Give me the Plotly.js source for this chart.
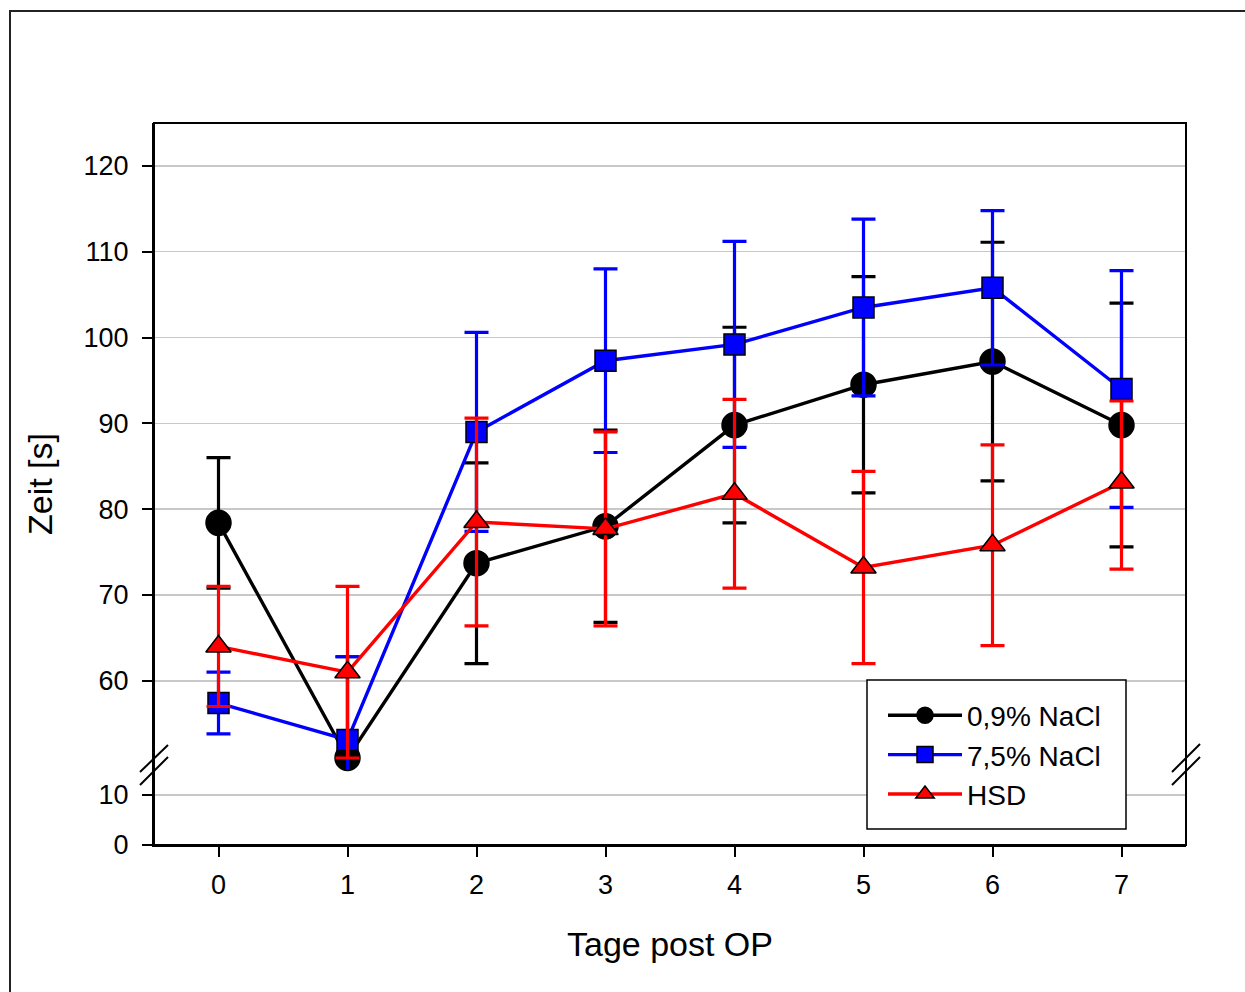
<!DOCTYPE html>
<html>
<head>
<meta charset="utf-8">
<script src="https://cdn.plot.ly/plotly-3.0.1.min.js"></script>
<style>
  html, body { margin: 0; padding: 0; background: #fff; }
  #chart { width: 1245px; height: 992px; }
</style>
</head>
<body>
<div id="chart"></div>
<script>
// ---- data ----
const days = [0, 1, 2, 3, 4, 5, 6, 7];
const xTickLabels = ["0", "1", "2", "3", "4", "5", "6", "7"];

const seriesNames = ["0,9% NaCl", "7,5% NaCl", "HSD"];

const nacl09 = [78.4, 51.0, 73.7, 78.0, 89.8, 94.5, 97.2, 89.8];
const nacl09Err = [7.6, 11.8, 11.7, 11.2, 11.4, 12.6, 13.9, 14.2];

const nacl75 = [57.4, 53.1, 89.0, 97.3, 99.2, 103.5, 105.8, 94.0];
const nacl75Err = [3.6, 9.7, 11.6, 10.7, 12.0, 10.3, 9.0, 13.8];

const hsd = [64.0, 61.0, 78.5, 77.7, 81.8, 73.2, 75.8, 83.1];
const hsdErrPlus = [7.0, 10.0, 12.1, 11.3, 11.0, 11.2, 11.7, 9.5];
const hsdErrMinus = [7.0, 10.0, 12.1, 11.3, 11.0, 11.2, 11.7, 10.1];

const upperTicks = [60, 70, 80, 90, 100, 110, 120];
const lowerTicks = [0, 10];

// ---- geometry ----
const W = 1245, H = 992;
const plotL = 154, plotR = 1186, plotT = 123, plotB = 845;
const pw = plotR - plotL, ph = plotB - plotT;
const breakY = 770;
const lowerFrac = (plotB - breakY) / ph;
const px = x => (x - plotL) / pw;
const py = y => (plotB - y) / ph;

const font = "Liberation Sans, Arial, sans-serif";

function mk(name, y, plus, minus, color, symbol, size) {
  return {
    type: "scatter", mode: "lines+markers",
    x: days, y: y, name: name,
    xaxis: "x", yaxis: "y2",
    cliponaxis: false,
    line: { color: color, width: 3.4 },
    marker: { color: color, symbol: symbol, size: size, line: { color: "#000", width: 1.5 } },
    error_y: { type: "data", symmetric: false, array: plus, arrayminus: minus,
               color: color, thickness: 3.2, width: 12 }
  };
}

const traces = [
  // empty trace so that the lower (0–15) axis segment is created and drawn
  { type: "scatter", mode: "markers", x: [], y: [], xaxis: "x", yaxis: "y",
    showlegend: false, hoverinfo: "skip" },
  mk(seriesNames[0], nacl09, nacl09Err, nacl09Err, "#000000", "circle", 25),
  mk(seriesNames[1], nacl75, nacl75Err, nacl75Err, "#0000ff", "square", 21),
  mk(seriesNames[2], hsd, hsdErrPlus, hsdErrMinus, "#ff0000", "triangle-up", 22)
];

// break marks
const breakMarks = [];
[[140, 772, 168, 745], [140, 785, 168, 757], [1172, 772, 1200, 744], [1172, 785, 1200, 757]].forEach(s => {
  breakMarks.push({ type: "line", xref: "paper", yref: "paper",
    x0: px(s[0]), y0: py(s[1]), x1: px(s[2]), y1: py(s[3]),
    line: { color: "#000", width: 2 }, layer: "above" });
});

const tickFont = { family: font, size: 27, color: "#000" };

const layout = {
  width: W, height: H,
  margin: { l: plotL, r: W - plotR, t: plotT, b: H - plotB, pad: 0 },
  paper_bgcolor: "#fff", plot_bgcolor: "#fff",
  font: { family: font, color: "#000", size: 27 },
  showlegend: true,
  legend: {
    x: px(883), y: py(690.5), xanchor: "left", yanchor: "top",
    bgcolor: "rgba(0,0,0,0)", borderwidth: 0,
    font: { family: font, size: 28, color: "#000" },
    itemwidth: 74, tracegroupgap: 0
  },
  xaxis: {
    range: [-0.5, 7.5], anchor: "y",
    tickmode: "array", tickvals: days, ticktext: xTickLabels,
    ticks: "outside", ticklen: 10, tickwidth: 2, tickcolor: "#000",
    ticklabelstandoff: 5,
    showline: true, linecolor: "#000", linewidth: 2,
    showgrid: false, zeroline: false,
    tickfont: tickFont,
    title: { text: "Tage post OP", font: { family: font, size: 34, color: "#000" }, standoff: 33 }
  },
  yaxis: {
    domain: [0, lowerFrac], range: [0, 15], anchor: "x",
    tickmode: "array", tickvals: lowerTicks,
    ticks: "outside", ticklen: 10, tickwidth: 2, tickcolor: "#000",
    ticklabelstandoff: 8,
    showline: true, linecolor: "#000", linewidth: 2,
    showgrid: true, gridcolor: "#c8c8c8", gridwidth: 1.5, zeroline: false,
    tickfont: tickFont
  },
  yaxis2: {
    domain: [lowerFrac, 1], range: [49.6, 125], anchor: "x",
    tickmode: "array", tickvals: upperTicks,
    ticks: "outside", ticklen: 10, tickwidth: 2, tickcolor: "#000",
    ticklabelstandoff: 8,
    showline: true, linecolor: "#000", linewidth: 2,
    showgrid: true, gridcolor: "#c8c8c8", gridwidth: 1.5, zeroline: false,
    tickfont: tickFont
  },
  shapes: [
    // plot frame
    { type: "rect", xref: "paper", yref: "paper", x0: 0, y0: 0, x1: 1, y1: 1,
      line: { color: "#000", width: 2 }, layer: "above" },
    // outer figure frame
    { type: "rect", xref: "paper", yref: "paper",
      x0: px(10), y0: py(1005), x1: px(1260), y1: py(11),
      line: { color: "#222", width: 2 }, layer: "above" },
    // legend box
    { type: "rect", xref: "paper", yref: "paper",
      x0: px(867), y0: py(829), x1: px(1126), y1: py(680),
      fillcolor: "#fff", line: { color: "#000", width: 1.5 }, layer: "above" }
  ].concat(breakMarks),
  annotations: [
    { xref: "paper", yref: "paper", x: px(40), y: py(484), text: "Zeit [s]",
      textangle: -90, showarrow: false, xanchor: "center", yanchor: "middle",
      font: { family: font, size: 34, color: "#000" } }
  ]
};

Plotly.newPlot("chart", traces, layout, { displayModeBar: false, staticPlot: true });
</script>
</body>
</html>
